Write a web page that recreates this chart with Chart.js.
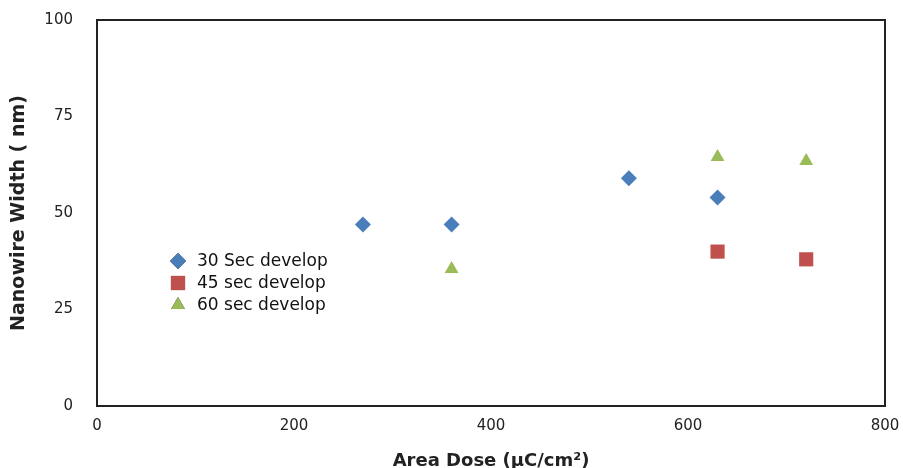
<!DOCTYPE html>
<html>
<head>
<meta charset="utf-8">
<script src="https://cdn.jsdelivr.net/npm/chart.js@4/dist/chart.umd.min.js"></script>
<style>
  html, body { margin: 0; padding: 0; background: #fff; }
  #wrap { width: 903px; height: 468px; }
</style>
</head>
<body>
<div id="wrap"><canvas id="dose-chart" width="903" height="468"></canvas></div>
<script>
// values
var dose30 = [270, 360, 540, 630];
var width30 = [47, 47, 59, 54];
var dose45 = [630, 720];
var width45 = [40, 38];
var dose60 = [360, 630, 720];
var width60 = [35.5, 64.5, 63.5];

var seriesLabels = ['30 Sec develop', '45 sec develop', '60 sec develop'];
var xTicks = [0, 200, 400, 600, 800];
var yTicks = [0, 25, 50, 75, 100];

function toPoints(xs, ys) {
    return xs.map(function(x, i) { return { x: x, y: ys[i] }; });
}

// plot box drawn around the whole chart area
var boxPlugin = {
    id: 'box',
    beforeDatasetsDraw: function(chart) {
        var a = chart.chartArea, ctx = chart.ctx;
        ctx.save();
        ctx.strokeStyle = '#222';
        ctx.lineWidth = 2;
        ctx.strokeRect(a.left, a.top, a.right - a.left, a.bottom - a.top);
        ctx.restore();
    }
};

// legend sits inside the plot, left side
var innerLegend = {
    id: 'innerLegend',
    afterDraw: function(chart) {
        var ctx = chart.ctx, a = chart.chartArea;
        var x0 = a.left + 81, y0 = 261, step = 22;
        ctx.save();
        ctx.font = '17px "DejaVu Sans", Verdana, sans-serif';
        ctx.textBaseline = 'middle';
        chart.data.datasets.forEach(function(ds, i) {
            var y = y0 + i * step;
            Chart.helpers.drawPoint(ctx, {
                pointStyle: ds.pointStyle,
                radius: ds.pointRadius,
                rotation: 0,
                borderWidth: 0
            }, x0, y);
            ctx.fillStyle = ds.backgroundColor;
            ctx.fill();
            ctx.fillStyle = '#111';
            ctx.fillText(ds.label, x0 + 19, y + 1);
        });
        ctx.restore();
    }
};

var tickFont = { family: '"DejaVu Sans", Verdana', size: 15 };

new Chart(document.getElementById('dose-chart'), {
    type: 'scatter',
    data: {
        datasets: [{
            label: seriesLabels[0],
            data: toPoints(dose30, width30),
            pointStyle: 'rectRot',
            pointRadius: 8,
            backgroundColor: '#4a7ebb',
            borderWidth: 0
        }, {
            label: seriesLabels[1],
            data: toPoints(dose45, width45),
            pointStyle: 'rect',
            pointRadius: 10,
            backgroundColor: '#c0504d',
            borderWidth: 0
        }, {
            label: seriesLabels[2],
            data: toPoints(dose60, width60),
            pointStyle: 'triangle',
            pointRadius: 8,
            backgroundColor: '#9bbb59',
            borderWidth: 0
        }]
    },
    options: {
        responsive: false,
        animation: false,
        layout: { padding: { left: 0, right: 18, top: 20, bottom: 0 } },
        plugins: {
            legend: { display: false },
            tooltip: { enabled: false }
        },
        scales: {
            x: {
                type: 'linear',
                min: 0, max: 800,
                afterBuildTicks: function(s) { s.ticks = xTicks.map(function(v) { return { value: v }; }); },
                afterFit: function(s) { s.height = 62; s.paddingLeft = 0; s.paddingRight = 0; },
                grid: { display: false, drawTicks: false },
                border: { display: false },
                ticks: { color: '#222', padding: 11, font: tickFont },
                title: {
                    display: true,
                    text: 'Area Dose (µC/cm²)',
                    color: '#222',
                    padding: { top: 10, bottom: -4 },
                    font: { family: '"DejaVu Sans", Verdana', size: 18, weight: 'bold' }
                }
            },
            y: {
                type: 'linear',
                min: 0, max: 100,
                afterBuildTicks: function(s) { s.ticks = yTicks.map(function(v) { return { value: v }; }); },
                afterFit: function(s) { s.width = 97; s.paddingTop = 0; s.paddingBottom = 0; },
                grid: { display: false, drawTicks: false },
                border: { display: false },
                ticks: { color: '#222', padding: 24, font: tickFont },
                title: {
                    display: true,
                    text: 'Nanowire Width ( nm)',
                    color: '#222',
                    padding: { top: 8, bottom: 0 },
                    font: { family: '"DejaVu Sans", Verdana', size: 19, weight: 'bold' }
                }
            }
        }
    },
    plugins: [boxPlugin, innerLegend]
});
</script>
</body>
</html>
